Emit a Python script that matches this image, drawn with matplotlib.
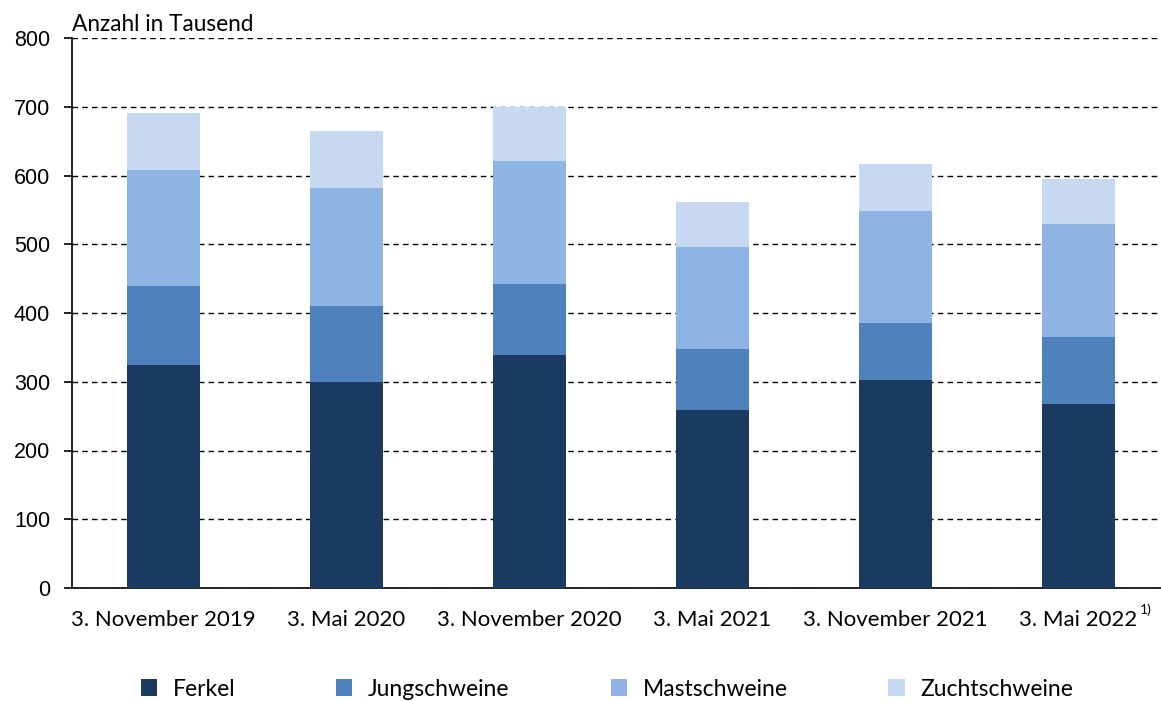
import matplotlib.pyplot as plt
import numpy as np

# data (Anzahl in Tausend)
dates = ["3. November 2019", "3. Mai 2020", "3. November 2020",
         "3. Mai 2021", "3. November 2021", "3. Mai 2022"]
ferkel = [324, 300, 339, 259, 303, 268]
jungschweine = [115, 110, 103, 89, 82, 97]
mastschweine = [169, 172, 179, 148, 163, 165]
zuchtschweine = [83, 83, 79, 65, 69, 65]

series = [("Ferkel", ferkel, "#1b3a60"),
          ("Jungschweine", jungschweine, "#4f81bd"),
          ("Mastschweine", mastschweine, "#8eb4e3"),
          ("Zuchtschweine", zuchtschweine, "#c6d9f1")]

fig = plt.figure(figsize=(11.61, 7.01), dpi=100)
ax = fig.add_axes([72/1161, 1-588/701, 1098/1161, 550/701])

x = np.arange(len(dates))
bottom = np.zeros(len(dates))
for name, vals, col in series:
    ax.bar(x, vals, 0.4, bottom=bottom, color=col, label=name, zorder=3)
    bottom += np.array(vals)

ax.set_xlim(-0.5, 5.5)
ax.set_ylim(0, 800)
ax.set_yticks(range(0, 801, 100))
ax.yaxis.grid(True, linestyle=(0, (4, 3)), color="black", linewidth=1, zorder=1)
for s in ["top", "right"]:
    ax.spines[s].set_visible(False)
ax.spines["left"].set_linewidth(1.2)
ax.spines["bottom"].set_linewidth(1.2)
ax.tick_params(axis="y", length=5.8, width=1.2, labelsize=15.5, pad=10)
ax.tick_params(axis="x", length=0, pad=16)
for lab in ax.get_yticklabels():
    lab.set_fontfamily("Liberation Sans")

ax.set_xticks(x)
ax.set_xticklabels(dates, fontsize=16, family="Lato")
ax.text(5.335, -0.028, "1)", transform=ax.get_xaxis_transform(), fontsize=10,
        family="Lato", ha="left", va="top")

ax.text(0, 1.005, "Anzahl in Tausend", fontsize=16.3, family="Lato",
        ha="left", va="bottom", transform=ax.transAxes)

fig.legend(loc="center", bbox_to_anchor=(607/1161, 1-689/701), ncol=4,
           frameon=False, prop={"family": "Lato", "size": 16.5},
           handlelength=0.7, handleheight=0.7, handletextpad=0.7,
           columnspacing=4.4)

fig.savefig("out.png", dpi=100)
